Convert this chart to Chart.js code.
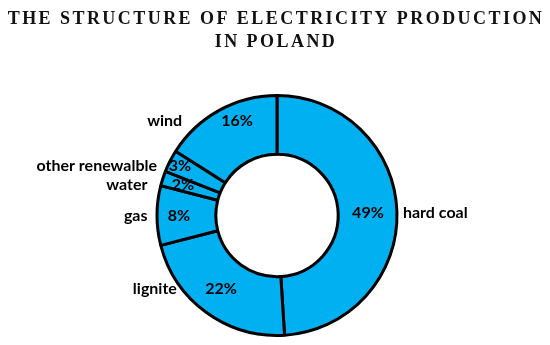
<!DOCTYPE html>
<html>
<head>
<meta charset="utf-8">
<script src="https://cdn.jsdelivr.net/npm/chart.js@4.4.0/dist/chart.umd.min.js"></script>
<style>
html, body { margin: 0; padding: 0; background: #fff; }
</style>
</head>
<body>
<canvas id="pie" width="550" height="345"></canvas>
<script>
const titleLines = ["THE STRUCTURE OF ELECTRICITY PRODUCTION", "IN POLAND"];
const categories = ["hard coal", "lignite", "gas", "water", "other renewalble", "wind"];
const shares = [49, 22, 8, 2, 3, 16];

// where the labels sit (px from centre, angle nudge in degrees, gap to ring), tuned by eye
const pctRadius = [91, 92, 98, 99, 109, 103];
const pctTurn = [0, 1.5, 0, 0, 0, 6];
const nameGap = [4.5, 3, 8, 12, 9, 19];

const titlePlugin = {
    id: 'bigTitle',
    afterDraw(chart) {
        const ctx = chart.ctx;
        ctx.save();
        ctx.font = 'bold 18px "Liberation Serif"';
        ctx.letterSpacing = '2.45px';
        ctx.fillStyle = '#111';
        ctx.textAlign = 'center';
        ctx.textBaseline = 'middle';
        titleLines.forEach((t, i) => ctx.fillText(t, 276, 19.5 + i * 22.5));
        ctx.restore();
    }
};

const labelPlugin = {
    id: 'sliceLabels',
    afterDatasetsDraw(chart) {
        const ctx = chart.ctx;
        const arcs = chart.getDatasetMeta(0).data;
        ctx.save();
        ctx.font = 'bold 16px Lato';
        ctx.fillStyle = '#000';
        ctx.textBaseline = 'middle';
        arcs.forEach((arc, i) => {
            const p = arc.getProps(['x', 'y', 'startAngle', 'endAngle', 'outerRadius'], true);
            const mid = (p.startAngle + p.endAngle) / 2 + pctTurn[i] * Math.PI / 180;
            const px = p.x + Math.cos(mid) * pctRadius[i];
            const py = p.y + Math.sin(mid) * pctRadius[i];
            ctx.textAlign = 'center';
            ctx.fillText(shares[i] + '%', px, py);
            const edge = p.outerRadius + 1.5;
            const dy = py - p.y;
            const dx = Math.sqrt(Math.max(edge * edge - dy * dy, 0));
            if (px > p.x) {
                ctx.textAlign = 'left';
                ctx.fillText(categories[i], p.x + dx + nameGap[i], py);
            } else {
                ctx.textAlign = 'right';
                ctx.fillText(categories[i], p.x - dx - nameGap[i], py);
            }
        });
        ctx.restore();
    }
};

new Chart(document.getElementById('pie'), {
    type: 'doughnut',
    data: {
        labels: categories,
        datasets: [{
            data: shares,
            backgroundColor: '#00B0F0',
            borderColor: '#000',
            borderWidth: 3
        }]
    },
    options: {
        responsive: false,
        animation: false,
        radius: 120,
        cutout: '51%',
        layout: { padding: { left: 147, right: 143, top: 86, bottom: 0 } },
        plugins: {
            legend: { display: false },
            tooltip: { enabled: false }
        }
    },
    plugins: [labelPlugin, titlePlugin]
});
</script>
</body>
</html>
